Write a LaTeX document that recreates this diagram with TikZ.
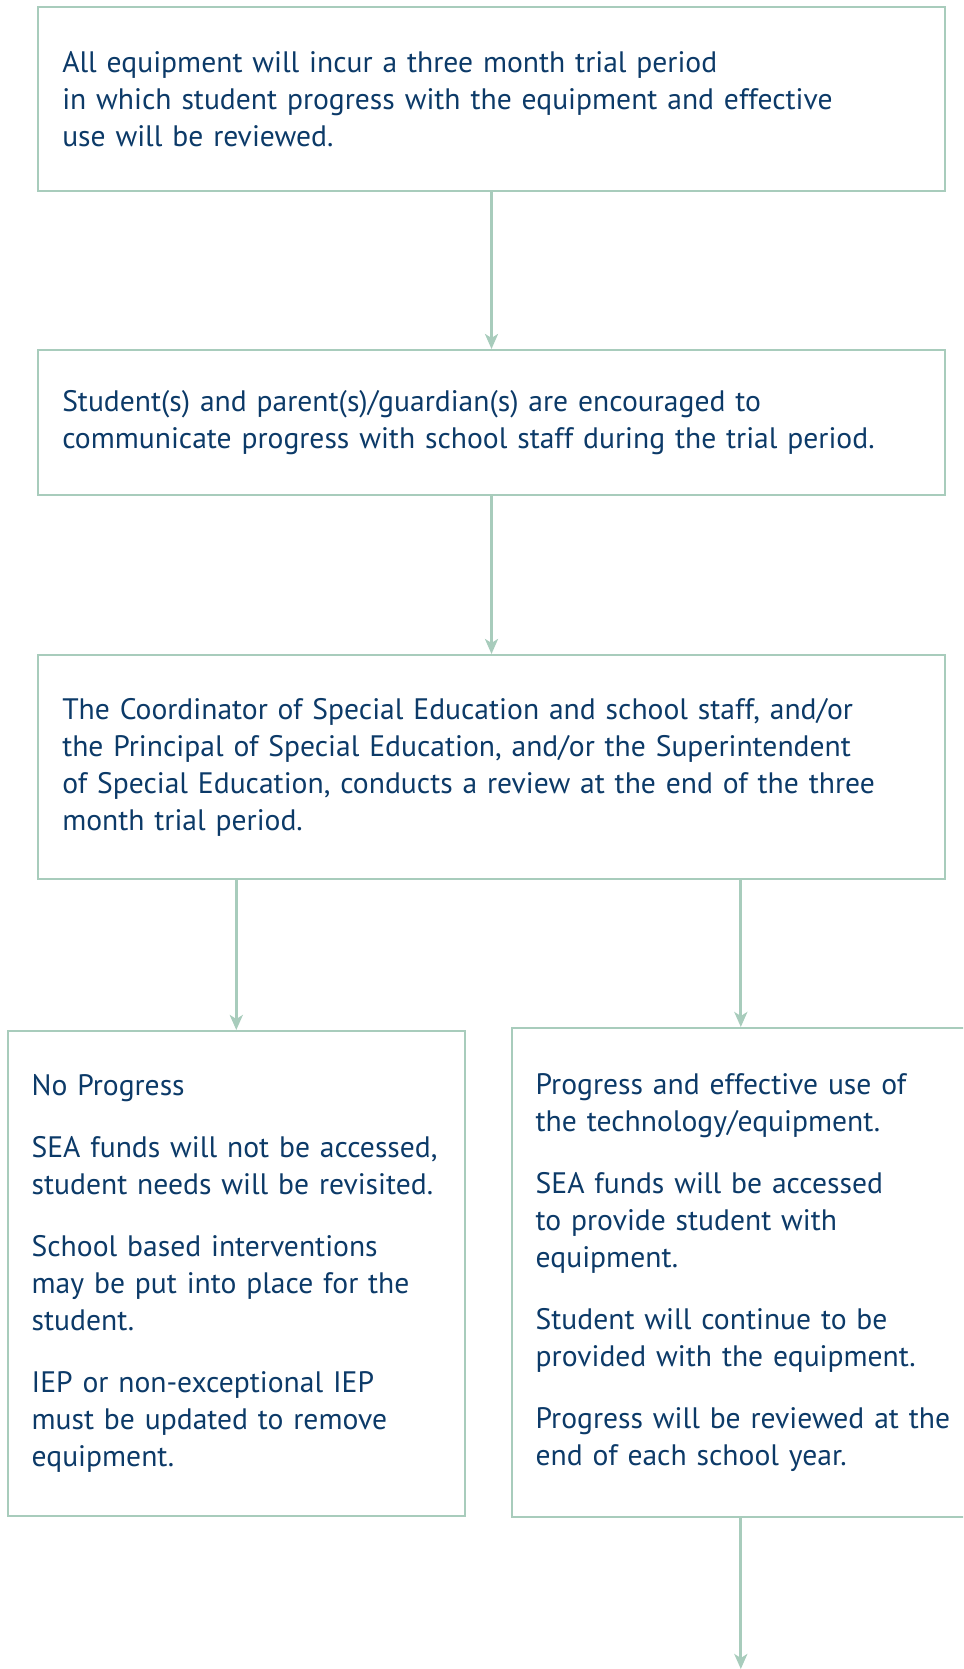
\documentclass[tikz,border=0pt]{standalone}
\usepackage{fontspec}
\setmainfont{PT Sans}
\usetikzlibrary{arrows.meta}
\definecolor{boxline}{RGB}{168,204,188}
\definecolor{boxtext}{RGB}{12,58,104}
\begin{document}
\begin{tikzpicture}[x=1pt,y=-1pt,
  stepbox/.style={draw=boxline, line width=2pt, text=boxtext, align=left,
    inner xsep=24pt, inner ysep=0pt, font=\fontsize{29.6}{37}\selectfont},
  flow/.style={draw=boxline, line width=3pt},
  >={Stealth[length=15pt,width=13pt,inset=4pt]}]
  \useasboundingbox (0,0) rectangle (963,1669);
  \clip (0,0) rectangle (963,1669);
  \node[stepbox, text width=858.5pt, minimum height=184pt] (trial) at (491.5,99)
    {All equipment will incur a three month trial period\\
     in which student progress with the equipment and effective\\
     use will be reviewed.};
  \node[stepbox, text width=858.5pt, minimum height=145pt] (talk) at (491.5,422.5)
    {Student(s) and parent(s)/guardian(s) are encouraged to\\
     communicate progress with school staff during the trial period.};
  \node[stepbox, text width=858.5pt, minimum height=224pt] (review) at (491.5,767)
    {The Coordinator of Special Education and school staff, and/or\\
     the Principal of Special Education, and/or the Superintendent\\
     of Special Education, conducts a review at the end of the three\\
     month trial period.};
  \node[stepbox, text width=409.3pt, minimum height=485pt] (noprog) at (236.3,1273.5)
    {No Progress\\[25pt]
     SEA funds will not be accessed,\\
     student needs will be revisited.\\[25pt]
     School based interventions\\
     may be put into place for the\\
     student.\\[25pt]
     IEP or non-exceptional IEP\\
     must be updated to remove\\
     equipment.};
  \node[stepbox, text width=443pt, minimum height=489pt] (prog) at (757.2,1272.5)
    {Progress and effective use of\\
     the technology/equipment.\\[25pt]
     SEA funds will be accessed\\
     to provide student with\\
     equipment.\\[25pt]
     Student will continue to be\\
     provided with the equipment.\\[25pt]
     Progress will be reviewed at the\\
     end of each school year.};
  \coordinate (next) at (740.8,1669);
  \draw[flow,->] (trial) -- (talk);
  \draw[flow,->] (talk) -- (review);
  \draw[flow,->] (review.south -| noprog.north) -- (noprog.north);
  \draw[flow,->] (review.south -| next) -- (prog.north -| next);
  \draw[flow,->] (prog.south -| next) -- (next);
\end{tikzpicture}
\end{document}
